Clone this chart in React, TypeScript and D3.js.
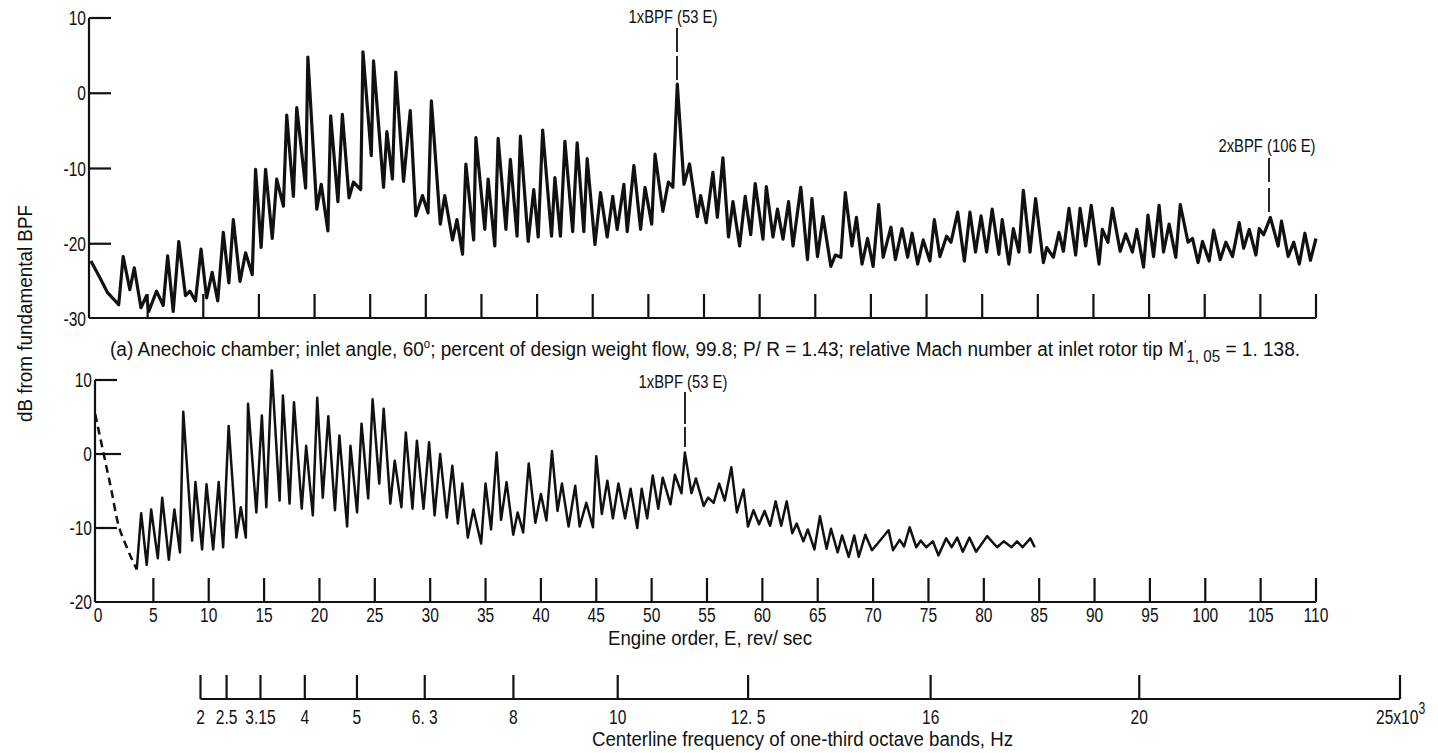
import React from "react";
import * as d3 from "d3";

// ---------- data ----------
const topE = [
  -0.1, 0.7, 1.4, 2.4, 2.8, 3.4, 3.8, 4.4, 4.9, 5.1, 5.8, 6.4, 6.8, 7.3, 7.8, 8.4, 8.8, 9.3, 9.8, 10.3,
  10.8, 11.3, 11.8, 12.3, 12.7, 13.3, 13.8, 14.4, 14.7, 15.2, 15.6, 16.2, 16.6, 17.2, 17.5, 18.1, 18.4, 19.2, 19.4, 20.2,
  20.6, 21.2, 21.45, 22.1, 22.5, 23.1, 23.5, 24.15, 24.35, 25.1, 25.3, 26.2, 26.5, 27.0, 27.3, 28.0, 28.6, 29.1, 29.7, 30.2,
  30.5, 31.3, 31.7, 32.4, 32.8, 33.3, 33.6, 34.3, 34.5, 35.3, 35.6, 36.2, 36.5, 37.2, 37.6, 38.2, 38.5, 39.2, 39.7, 40.1,
  40.5, 41.3, 41.6, 42.1, 42.5, 43.2, 43.6, 44.2, 44.5, 45.2, 45.7, 46.3, 46.8, 47.2, 47.8, 48.1, 48.7, 49.3, 49.7, 50.3,
  50.6, 51.3, 51.8, 52.2, 52.6, 53.2, 53.7, 54.4, 54.7, 55.2, 55.8, 56.2, 56.7, 57.2, 57.6, 58.2, 58.7, 59.2, 59.6, 60.3,
  60.6, 61.2, 61.6, 62.1, 62.6, 63.0, 63.7, 64.3, 64.7, 65.2, 65.7, 66.4, 66.8, 67.3, 67.7, 68.3, 68.7, 69.2, 69.7, 70.2,
  70.7, 71.1, 71.8, 72.2, 72.8, 73.3, 73.7, 74.2, 74.7, 75.3, 75.7, 76.2, 76.8, 77.2, 77.8, 78.4, 78.9, 79.4, 79.9, 80.4,
  80.9, 81.5, 81.8, 82.4, 82.8, 83.3, 83.7, 84.3, 84.8, 85.5, 85.8, 86.4, 86.9, 87.3, 87.8, 88.4, 88.8, 89.3, 89.8, 90.5,
  90.8, 91.3, 91.7, 92.4, 92.9, 93.5, 93.9, 94.5, 94.9, 95.4, 95.9, 96.3, 96.8, 97.4, 97.8, 98.5, 98.9, 99.4, 99.8, 100.4,
  100.8, 101.4, 101.9, 102.5, 103.1, 103.5, 104.0, 104.6, 104.9, 105.3, 105.9, 106.6, 106.9, 107.5, 108.0, 108.5, 109.0, 109.5, 110.0,
];
const topDb = [
  -22.3, -24.5, -26.5, -28.1, -21.7, -26.1, -23.2, -28.5, -26.9, -29.0, -26.3, -28.2, -21.6, -29.0, -19.7, -26.9, -26.3, -27.6, -20.7, -27.2,
  -23.8, -27.6, -18.5, -25.2, -16.8, -25.0, -21.2, -24.1, -10.1, -20.5, -10.1, -19.3, -11.4, -15.0, -2.9, -13.7, -1.9, -12.6, 4.8, -15.4,
  -12.1, -18.3, -3.0, -14.4, -2.8, -13.9, -11.8, -12.8, 5.5, -8.3, 4.3, -12.5, -5.1, -11.4, 2.8, -11.7, -2.3, -16.3, -13.6, -15.9,
  -1.0, -17.4, -13.6, -19.5, -16.8, -21.4, -9.4, -19.5, -5.9, -18.1, -11.4, -20.3, -6.0, -18.1, -8.8, -19.0, -5.7, -19.7, -12.8, -19.1,
  -4.9, -19.0, -11.2, -19.0, -6.4, -18.4, -6.6, -18.4, -8.7, -20.1, -13.2, -19.1, -13.7, -18.1, -12.1, -18.4, -9.6, -18.1, -12.5, -17.4,
  -8.1, -15.7, -11.8, -12.5, 1.2, -12.1, -9.4, -16.4, -13.6, -17.2, -10.5, -16.5, -8.6, -19.1, -14.4, -20.3, -13.7, -18.8, -12.0, -19.4,
  -12.4, -19.1, -15.4, -19.4, -14.4, -20.3, -12.5, -22.1, -14.0, -21.7, -16.4, -23.0, -21.5, -21.8, -13.2, -20.3, -16.5, -22.7, -19.3, -23.0,
  -14.8, -21.8, -17.8, -22.1, -18.0, -21.8, -18.6, -22.7, -19.5, -22.3, -16.8, -21.7, -19.0, -19.8, -15.8, -22.3, -15.8, -21.1, -16.3, -21.1,
  -15.4, -21.4, -16.8, -22.7, -18.0, -21.1, -12.9, -21.1, -14.0, -22.5, -20.5, -21.8, -18.5, -21.0, -15.3, -21.5, -15.3, -20.3, -14.9, -22.7,
  -18.1, -19.8, -15.3, -21.0, -18.7, -21.1, -18.1, -23.1, -16.2, -21.7, -14.9, -21.1, -17.4, -21.8, -14.8, -19.8, -19.3, -22.5, -19.7, -22.3,
  -18.2, -22.1, -19.8, -21.7, -17.2, -20.6, -18.1, -21.5, -18.0, -18.8, -16.5, -20.3, -17.0, -21.7, -19.8, -22.7, -18.6, -22.2, -19.3,
];

const botDashE = [-0.25, 0.2, 0.7, 1.25, 1.7, 2.6, 3.5];
const botDashDb = [5.4, 2.2, -1.3, -5.2, -8.7, -12.6, -15.6];

const botE = [
  3.5, 3.9, 4.4, 4.8, 5.4, 5.8, 6.4, 6.9, 7.4, 7.7, 8.5, 8.8, 9.4, 9.8, 10.4, 10.9, 11.3, 11.8, 12.5, 12.9,
  13.35, 13.55, 14.3, 14.8, 15.2, 15.7, 16.4, 16.7, 17.3, 17.7, 18.4, 18.8, 19.4, 19.8, 20.3, 20.8, 21.4, 21.8, 22.5, 22.8,
  23.4, 23.8, 24.4, 24.8, 25.4, 25.8, 26.4, 26.8, 27.4, 27.8, 28.4, 28.8, 29.4, 29.9, 30.4, 30.9, 31.5, 32.0, 32.5, 32.9,
  33.4, 33.9, 34.6, 35.0, 35.5, 36.0, 36.4, 36.9, 37.5, 37.9, 38.4, 38.9, 39.5, 40.0, 40.5, 41.0, 41.5, 41.9, 42.5, 43.1,
  43.5, 44.1, 44.7, 45.0, 45.5, 46.0, 46.5, 47.0, 47.6, 48.1, 48.7, 49.1, 49.6, 50.1, 50.6, 51.0, 51.7, 52.1, 52.7, 53.0,
  53.6, 54.0, 54.7, 55.1, 55.6, 56.1, 56.6, 57.2, 57.7, 58.3, 58.7, 59.2, 59.7, 60.2, 60.7, 61.2, 61.7, 62.2, 62.7, 63.1,
  63.7, 64.1, 64.7, 65.2, 65.8, 66.2, 66.8, 67.2, 67.8, 68.3, 68.7, 69.3, 69.9, 71.4, 71.8, 72.4, 72.8, 73.3, 73.9, 74.3,
  74.8, 75.4, 75.9, 76.6, 77.1, 77.6, 78.1, 78.7, 79.3, 80.3, 81.2, 81.8, 82.5, 83.0, 83.5, 84.2, 84.6,
];
const botDb = [
  -15.6, -8.0, -15.0, -7.5, -14.1, -5.9, -14.3, -7.5, -13.3, 5.7, -11.7, -3.8, -12.9, -4.1, -12.9, -3.8, -12.6, 3.8, -11.3, -7.2,
  -11.3, 6.8, -7.9, 5.2, -7.2, 11.3, -6.3, 7.9, -6.7, 7.0, -7.4, 1.1, -8.3, 7.6, -5.9, 5.1, -7.6, 2.5, -9.8, 1.1,
  -7.9, 4.1, -6.0, 7.4, -4.0, 6.1, -6.7, -0.9, -7.2, 2.9, -7.4, 1.8, -7.4, 1.6, -8.3, 0.0, -8.6, -1.6, -9.4, -4.0,
  -11.3, -7.5, -12.1, -4.0, -10.2, 0.2, -8.9, -3.8, -10.9, -7.9, -10.6, -1.3, -9.3, -5.4, -9.0, 0.4, -7.7, -4.0, -9.8, -4.3,
  -9.8, -6.6, -9.9, -0.3, -8.1, -3.6, -8.7, -4.0, -8.7, -4.7, -10.0, -4.7, -8.7, -2.9, -7.4, -3.2, -6.8, -2.8, -5.3, 0.2,
  -5.3, -3.3, -7.0, -5.9, -6.6, -4.0, -6.3, -1.8, -7.9, -4.8, -9.8, -7.6, -9.5, -7.7, -9.7, -6.4, -9.7, -6.4, -10.7, -9.4,
  -11.8, -10.2, -12.9, -8.4, -12.8, -10.1, -13.3, -11.0, -13.9, -11.0, -13.9, -10.9, -13.0, -10.3, -13.0, -11.6, -12.5, -9.9, -12.6, -11.7,
  -12.6, -11.8, -13.7, -11.4, -12.6, -11.3, -13.2, -11.3, -13.2, -11.1, -12.6, -11.8, -12.6, -11.8, -12.6, -11.4, -12.6,
];

const engineTicks = [5, 10, 15, 20, 25, 30, 35, 40, 45, 50, 55, 60, 65, 70, 75, 80, 85, 90, 95, 100, 105, 110];
const engineLabels = [0, 5, 10, 15, 20, 25, 30, 35, 40, 45, 50, 55, 60, 65, 70, 75, 80, 85, 90, 95, 100, 105, 110];
const topYTicks = [10, 0, -10, -20, -30];
const botYTicks = [10, 0, -10, -20];
const freqTicks = [2, 2.5, 3.15, 4, 5, 6.3, 8, 10, 12.5, 16, 20, 25];
const freqLabels = ["2", "2.5", "3.15", "4", "5", "6. 3", "8", "10", "12. 5", "16", "20", "25x10"];

const FONT = "'Liberation Sans', Arial, sans-serif";
const INK = "#111";

function Lbl({ x, y, text, anchor = "middle", size = 20.5, sx = 0.76 }: any) {
  return (
    <text
      transform={`translate(${x},${y}) scale(${sx},1)`}
      textAnchor={anchor}
      fontSize={size}
      fontFamily={FONT}
      fill={INK}
    >
      {text}
    </text>
  );
}

export default function App() {
  const xTop = d3.scaleLinear().domain([0, 110]).range([92, 1316]);
  const yTop = d3.scaleLinear().domain([-30, 10]).range([319, 18]);
  const xBot = d3.scaleLinear().domain([0, 110]).range([98, 1316]);
  const yBot = d3.scaleLinear().domain([-20, 10]).range([602, 380]);
  const xFreq = d3.scaleLinear().domain([2, 25]).range([200.5, 1400]);

  const topPts = topE.map((e, i) => [e, topDb[i]] as [number, number]);
  const botPts = botE.map((e, i) => [e, botDb[i]] as [number, number]);
  const dashPts = botDashE.map((e, i) => [e, botDashDb[i]] as [number, number]);

  const lineTop = d3.line<[number, number]>().x((d) => xTop(d[0])).y((d) => yTop(d[1]));
  const lineBot = d3.line<[number, number]>().x((d) => xBot(d[0])).y((d) => yBot(d[1]));
  const lineDash = d3
    .line<[number, number]>()
    .x((d) => xBot(d[0]))
    .y((d) => yBot(d[1]))
    .curve(d3.curveMonotoneX);

  const topAxisX = 89;
  const topBase = yTop(-30) - 1;
  const botAxisX = 95;
  const botBase = yBot(-20);
  const freqBase = 699;

  return (
    <svg
      width={1438}
      height={753}
      style={{ position: "absolute", left: 0, top: 0, background: "#fff" }}
    >
      <rect x={0} y={0} width={1438} height={753} fill="#fff" />

      {/* ===== top panel ===== */}
      <g stroke={INK} strokeWidth={2.2} fill="none">
        <line x1={topAxisX} y1={yTop(10)} x2={topAxisX} y2={topBase} />
        <line x1={topAxisX} y1={topBase} x2={xTop(110)} y2={topBase} />
        {topYTicks.slice(0, 4).map((v) => (
          <line key={v} x1={topAxisX} y1={yTop(v)} x2={topAxisX + 22} y2={yTop(v)} />
        ))}
        {engineTicks.map((e) => (
          <line key={e} x1={xTop(e)} y1={topBase} x2={xTop(e)} y2={topBase - 24} />
        ))}
      </g>
      {topYTicks.map((v) => (
        <Lbl key={v} x={topAxisX - 3} y={yTop(v) + 7} text={String(v)} anchor="end" />
      ))}
      <path d={lineTop(topPts) || ""} fill="none" stroke={INK} strokeWidth={3.2} strokeLinejoin="round" />

      {/* annotations top */}
      <Lbl x={673} y={23} text="1xBPF (53 E)" size={19} sx={0.78} />
      <line x1={677} y1={28} x2={677} y2={80} stroke={INK} strokeWidth={1.8} strokeDasharray="24 4" />
      <Lbl x={1267} y={152} text="2xBPF (106 E)" size={19} sx={0.78} />
      <line x1={1269} y1={158} x2={1269} y2={212} stroke={INK} strokeWidth={1.8} strokeDasharray="24 6" />

      {/* caption */}
      <text
        x={110}
        y={356}
        fontSize={20}
        fontFamily={FONT}
        fill={INK}
        textLength={1190}
        lengthAdjust="spacingAndGlyphs"
      >
        (a) Anechoic chamber; inlet angle, 60
        <tspan dy={-8} fontSize={12}>o</tspan>
        <tspan dy={8}>; percent of design weight flow, 99.8; P/ R = 1.43; relative Mach number at inlet rotor tip  M</tspan>
        <tspan dy={-7} fontSize={13}>'</tspan>
        <tspan dy={13} fontSize={16}>1, 05</tspan>
        <tspan dy={-6}> = 1. 138.</tspan>
      </text>

      {/* ===== bottom panel ===== */}
      <g stroke={INK} strokeWidth={2.2} fill="none">
        <line x1={botAxisX} y1={yBot(10)} x2={botAxisX} y2={botBase} />
        <line x1={botAxisX} y1={botBase} x2={xBot(110)} y2={botBase} />
        {botYTicks.slice(0, 3).map((v) => (
          <line key={v} x1={botAxisX} y1={yBot(v)} x2={botAxisX + (v === 0 ? 26 : 22)} y2={yBot(v)} />
        ))}
        {engineTicks.map((e) => (
          <line key={e} x1={xBot(e)} y1={botBase} x2={xBot(e)} y2={botBase - 24} />
        ))}
      </g>
      {botYTicks.map((v) => (
        <Lbl key={v} x={botAxisX - 3} y={yBot(v) + 7} text={String(v)} anchor="end" />
      ))}
      {engineLabels.map((e) => (
        <Lbl key={e} x={xBot(e)} y={622} text={String(e)} />
      ))}
      <path d={lineDash(dashPts) || ""} fill="none" stroke={INK} strokeWidth={2.5} strokeDasharray="8 5" />
      <path d={lineBot(botPts) || ""} fill="none" stroke={INK} strokeWidth={2.5} strokeLinejoin="round" />

      <Lbl x={683} y={388} text="1xBPF (53 E)" size={19} sx={0.78} />
      <line x1={685} y1={392} x2={685} y2={447} stroke={INK} strokeWidth={1.8} strokeDasharray="32 3" />

      <text
        x={608}
        y={645}
        fontSize={20}
        fontFamily={FONT}
        fill={INK}
        textLength={204}
        lengthAdjust="spacingAndGlyphs"
      >
        Engine order, E,  rev/ sec
      </text>

      {/* ===== frequency axis ===== */}
      <g stroke={INK} strokeWidth={2.2} fill="none">
        <line x1={xFreq(2)} y1={freqBase} x2={xFreq(25)} y2={freqBase} />
        {freqTicks.map((f) => (
          <line key={f} x1={xFreq(f)} y1={freqBase} x2={xFreq(f)} y2={freqBase - 24} />
        ))}
      </g>
      {freqTicks.map((f, i) =>
        i === freqTicks.length - 1 ? (
          <text
            key={f}
            transform={`translate(${xFreq(f) - 24},724) scale(0.76,1)`}
            fontSize={20.5}
            fontFamily={FONT}
            fill={INK}
          >
            {freqLabels[i]}
            <tspan dy={-10} fontSize={16}>3</tspan>
          </text>
        ) : (
          <Lbl key={f} x={xFreq(f)} y={724} text={freqLabels[i]} />
        )
      )}
      <text
        x={592}
        y={746}
        fontSize={20}
        fontFamily={FONT}
        fill={INK}
        textLength={421}
        lengthAdjust="spacingAndGlyphs"
      >
        Centerline frequency of one-third octave bands, Hz
      </text>

      {/* y-axis title */}
      <text
        transform="translate(32,422) rotate(-90)"
        fontSize={20}
        fontFamily={FONT}
        fill={INK}
        textLength={217}
        lengthAdjust="spacingAndGlyphs"
      >
        dB from fundamental BPF
      </text>
    </svg>
  );
}
